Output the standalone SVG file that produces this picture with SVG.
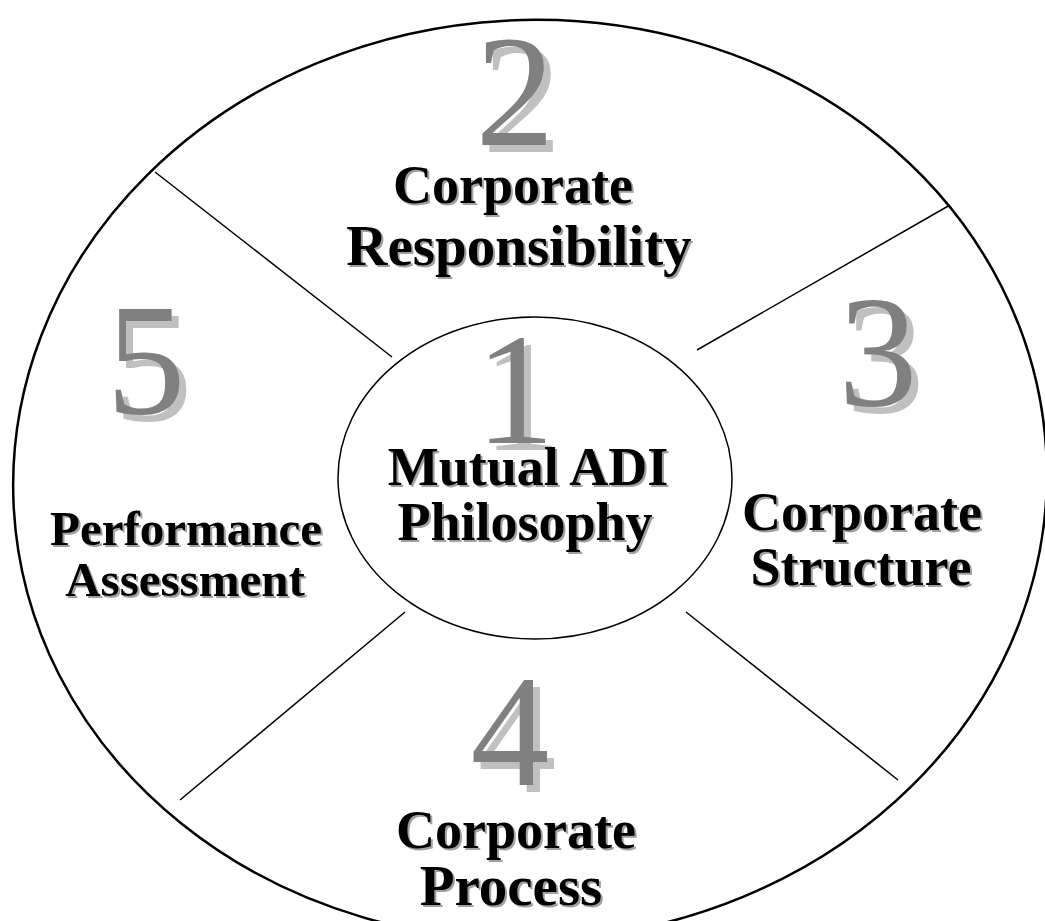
<svg xmlns="http://www.w3.org/2000/svg" width="1045" height="921" viewBox="0 0 1045 921">
<style>
.num{font-family:"Liberation Serif",serif;font-size:158px;text-anchor:middle}
.nd{fill:#808080}
.ns{fill:#c0c0c0}
.lbl{font-family:"Liberation Serif",serif;font-weight:bold;font-size:54px;text-anchor:middle}
.ls{fill:#a0a0a0}
.lt{fill:#000}
.sm{font-size:49px}
.lg{font-size:57px}
.ln{stroke:#000;stroke-width:1.5;fill:none}
</style>
<rect width="1045" height="921" fill="#fff"/>
<g id="outer">
<ellipse cx="530" cy="480" rx="517" ry="460" transform="rotate(-3 530 480)" fill="none" stroke="#000" stroke-width="2.5"/>
</g>
<g id="connectors">
<line class="ln" x1="155" y1="172" x2="392" y2="357"/>
<line class="ln" x1="950" y1="205" x2="697" y2="350"/>
<line class="ln" x1="686" y1="612" x2="898" y2="780"/>
<line class="ln" x1="405" y1="612" x2="180" y2="800"/>
</g>
<g id="node1">
<ellipse cx="535" cy="478" rx="197" ry="161" fill="none" stroke="#000" stroke-width="1.5"/>
<text class="num ns" x="522" y="450">1</text>
<text class="num nd" x="515" y="443">1</text>
<text class="lbl ls" x="530" y="487">Mutual ADI</text>
<text class="lbl lt" x="528" y="485">Mutual ADI</text>
<text class="lbl ls" x="527" y="542">Philosophy</text>
<text class="lbl lt" x="525" y="540">Philosophy</text>
</g>
<g id="node2">
<text class="num ns" x="522" y="152">2</text>
<text class="num nd" x="515" y="145">2</text>
<text class="lbl ls" x="515" y="205">Corporate</text>
<text class="lbl lt" x="513" y="203">Corporate</text>
<text class="lbl lg ls" x="521" y="267">Responsibility</text>
<text class="lbl lg lt" x="519" y="265">Responsibility</text>
</g>
<g id="node3">
<text class="num ns" x="885" y="412">3</text>
<text class="num nd" x="878" y="405">3</text>
<text class="lbl ls" x="864" y="532">Corporate</text>
<text class="lbl lt" x="862" y="530">Corporate</text>
<text class="lbl ls" x="863" y="587">Structure</text>
<text class="lbl lt" x="861" y="585">Structure</text>
</g>
<g id="node4">
<text class="num ns" x="517" y="792">4</text>
<text class="num nd" x="510" y="785">4</text>
<text class="lbl ls" x="518" y="850">Corporate</text>
<text class="lbl lt" x="516" y="848">Corporate</text>
<text class="lbl lg ls" x="513" y="907">Process</text>
<text class="lbl lg lt" x="511" y="905">Process</text>
</g>
<g id="node5">
<text class="num ns" x="153" y="420">5</text>
<text class="num nd" x="146" y="413">5</text>
<text class="lbl sm ls" x="188" y="547">Performance</text>
<text class="lbl sm lt" x="186" y="545">Performance</text>
<text class="lbl sm ls" x="187" y="598">Assessment</text>
<text class="lbl sm lt" x="185" y="596">Assessment</text>
</g>
</svg>
